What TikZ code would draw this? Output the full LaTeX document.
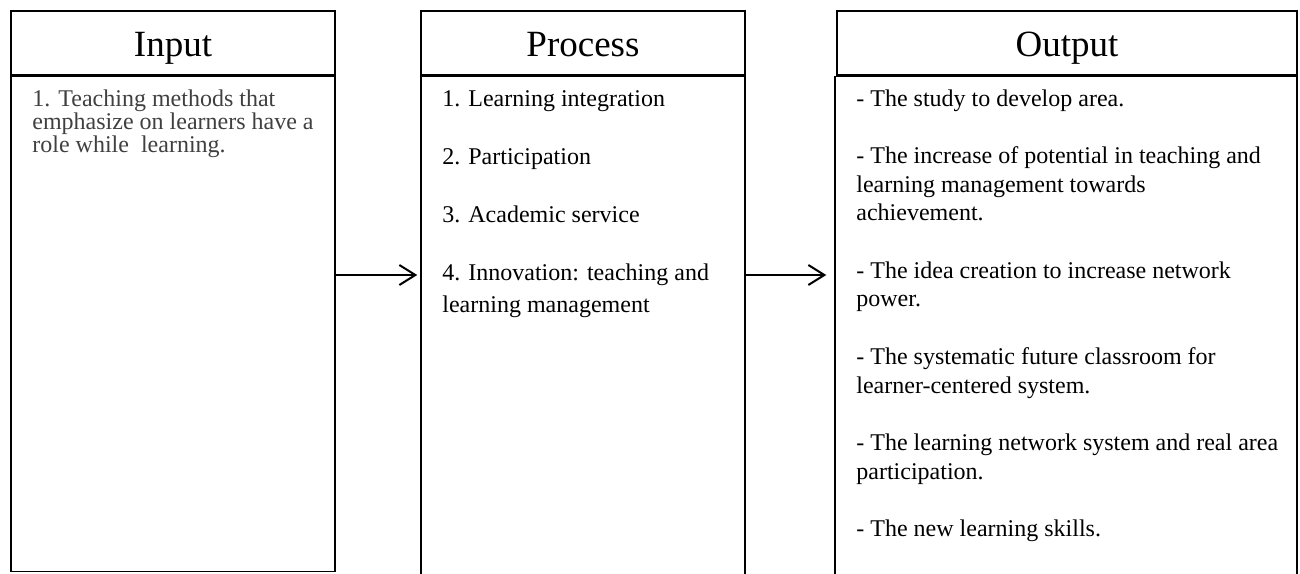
\documentclass[tikz,border=0pt]{standalone}
\usepackage{fontspec}
\setmainfont{Liberation Serif}
\usetikzlibrary{positioning,arrows.meta}

\tikzset{
  head/.style={draw, line width=0.75pt, minimum height=32pt, inner sep=0pt,
    font=\fontsize{18.5}{22}\selectfont, text height=16pt, text depth=3pt},
  body/.style={draw, line width=0.75pt, inner sep=0pt},
  % base anchor of a multi-line node sits on its last line
  item/.style={anchor=base west, align=left, inner sep=0pt,
    font=\fontsize{12}{14.35}\selectfont},
  tight/.style={font=\fontsize{12}{11.5}\selectfont},
  loose/.style={font=\fontsize{12}{16}\selectfont},
  flow/.style={-{Straight Barb[length=8pt,width=10pt]}, line width=1pt}
}

\begin{document}
\begin{tikzpicture}[x=0.5pt,y=-0.5pt]
\useasboundingbox (0,0) rectangle (1300,573);
\clip (0,0) rectangle (1300,573);

% column headers
\node[head, minimum width=162pt] (inhead) at (173,43) {Input};
\node[head, minimum width=162pt] (prohead) at (583,43) {Process};
\node[head, minimum width=230pt] (outhead) at (1067,43) {Output};

% column bodies (process and output run past the bottom edge)
\node[body, minimum width=162pt, minimum height=247.5pt, below=0pt of inhead] (inbody) {};
\node[body, minimum width=162pt, minimum height=260pt, below=0pt of prohead] (probody) {};
\node[body, minimum width=231pt, minimum height=260pt, below=0pt of outhead, xshift=-0.5pt] (outbody) {};

% contents
\node[item, tight, text=black!75] (intext) at (32,152)
  {1. Teaching methods that\\emphasize on learners have a\\role while\ \ learning.};
\node[item, loose] (protext) at (442,312)
  {1. Learning integration\\[13pt]
   2. Participation\\[13pt]
   3. Academic service\\[13pt]
   4. Innovation: teaching and\\learning management};
\node[item] (outtext) at (856,536.5)
  {- The study to develop area.\\[14.35pt]
   - The increase of potential in teaching and\\learning management towards\\achievement.\\[14.35pt]
   - The idea creation to increase network\\power.\\[14.35pt]
   - The systematic future classroom for\\learner-centered system.\\[14.35pt]
   - The learning network system and real area\\participation.\\[14.35pt]
   - The new learning skills.};

% arrows between the columns
\coordinate (mid) at (0,275);
\draw[flow, shorten >=1.5pt] (inbody.east |- mid) -- (probody.west |- mid);
\draw[flow, shorten >=4pt] (probody.east |- mid) -- (outbody.west |- mid);
\end{tikzpicture}
\end{document}
